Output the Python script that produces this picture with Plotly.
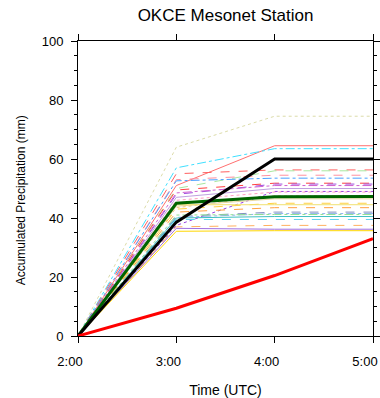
import plotly.graph_objects as go

times = [0, 1, 2, 3]
time_labels = ["2:00", "3:00", "4:00", "5:00"]

# ensemble members: accumulated precipitation (mm) at 2:00, 3:00, 4:00, 5:00
member_values = [
    [0, 64.0, 74.5, 74.5],
    [0, 51.0, 64.5, 64.5],
    [0, 57.0, 63.5, 63.5],
    [0, 55.0, 56.3, 56.3],
    [0, 50.0, 56.0, 56.0],
    [0, 53.0, 54.5, 54.5],
    [0, 52.6, 53.5, 53.5],
    [0, 49.5, 51.8, 51.8],
    [0, 48.0, 51.5, 51.5],
    [0, 48.5, 51.0, 51.0],
    [0, 47.0, 50.0, 50.0],
    [0, 37.5, 49.0, 49.0],
    [0, 46.0, 48.8, 48.8],
    [0, 43.5, 47.5, 47.5],
    [0, 44.0, 46.5, 46.5],
    [0, 43.0, 45.0, 45.0],
    [0, 44.5, 44.5, 44.5],
    [0, 42.0, 43.5, 43.5],
    [0, 40.5, 42.0, 42.0],
    [0, 40.2, 41.5, 41.5],
    [0, 41.0, 41.2, 41.2],
    [0, 40.0, 40.5, 40.5],
    [0, 39.5, 39.5, 39.5],
    [0, 37.0, 37.5, 37.5],
    [0, 36.5, 36.2, 36.2],
    [0, 35.5, 35.7, 35.7],
]
member_colors = [
    "#dcdcaa", "#ff7070", "#40e0ff", "#ff6060", "#a8e8a0", "#ff90a0",
    "#4aa0ff", "#ff4040", "#a050e0", "#d060d0", "#c0a0e0", "#9a40e0",
    "#ffa0c0", "#f0c890", "#e8d8a0", "#ffd040", "#f0e070", "#ffa040",
    "#8090c0", "#90b0f0", "#90e090", "#40c0c0", "#60d0f0", "#ffb060",
    "#a070e0", "#ffd700",
]
member_dashes = [
    "dot", "solid", "dashdot", "dash", "dash", "dash",
    "dashdot", "dash", "dash", "dashdot", "solid", "dot",
    "dot", "dot", "solid", "dash", "solid", "dash",
    "dash", "dashdot", "dashdot", "solid", "dash", "dash",
    "solid", "solid",
]

mean_values = [0, 45.0, 47.2, 47.3]
model_values = [0, 38.6, 60.0, 60.0]
obs_values = [0, 9.4, 20.5, 33.0]

fig = go.Figure()
for vals, col, dsh in zip(member_values, member_colors, member_dashes):
    fig.add_trace(go.Scatter(x=times, y=vals, mode="lines",
                             line=dict(color=col, width=1, dash=dsh),
                             showlegend=False, hoverinfo="skip"))

fig.add_trace(go.Scatter(x=times, y=mean_values, mode="lines",
                         line=dict(color="#006400", width=3), showlegend=False))
fig.add_trace(go.Scatter(x=times, y=model_values, mode="lines",
                         line=dict(color="black", width=3), showlegend=False))
fig.add_trace(go.Scatter(x=times, y=obs_values, mode="lines",
                         line=dict(color="#ff0000", width=3), showlegend=False))

font_family = "Liberation Sans, Arial, sans-serif"

fig.update_layout(
    width=380, height=398,
    margin=dict(l=78, r=7, t=41, b=62, autoexpand=False),
    paper_bgcolor="white", plot_bgcolor="white",
    font=dict(family=font_family, color="black", size=13),
    title=dict(text="OKCE Mesonet Station", x=0.5935, xanchor="center",
               y=0.962, yanchor="middle", font=dict(size=17, family=font_family)),
    xaxis=dict(range=[0, 3], tickvals=times, ticktext=time_labels, automargin=False,
               ticklabeloverflow="allow", ticklabelshift=-8,
               showgrid=False, zeroline=False, showline=True, linecolor="black",
               linewidth=1, mirror="ticks", ticks="outside", ticklen=6,
               tickcolor="black", tickfont=dict(size=13), ticklabelstandoff=7,
               title=dict(text="Time (UTC)", font=dict(size=14), standoff=17)),
    yaxis=dict(range=[0, 100], tickvals=[0, 20, 40, 60, 80, 100], automargin=False,
               ticklabeloverflow="allow",
               showgrid=False, zeroline=False, showline=True, linecolor="black",
               linewidth=1, mirror="ticks", ticks="outside", ticklen=6,
               tickcolor="black", tickfont=dict(size=13), ticklabelstandoff=5,
               minor=dict(dtick=5, ticks="outside", ticklen=3, tickcolor="black")),
    annotations=[dict(text="Accumulated Precipitation (mm)", textangle=-90,
                      xref="paper", yref="paper", x=-0.193, y=0.46,
                      xanchor="center", yanchor="middle", showarrow=False,
                      font=dict(size=12, family=font_family))],
)

fig.write_html("out.html", config={"displayModeBar": False},
               post_script="document.body.style.margin='0';document.body.style.overflow='hidden';")
